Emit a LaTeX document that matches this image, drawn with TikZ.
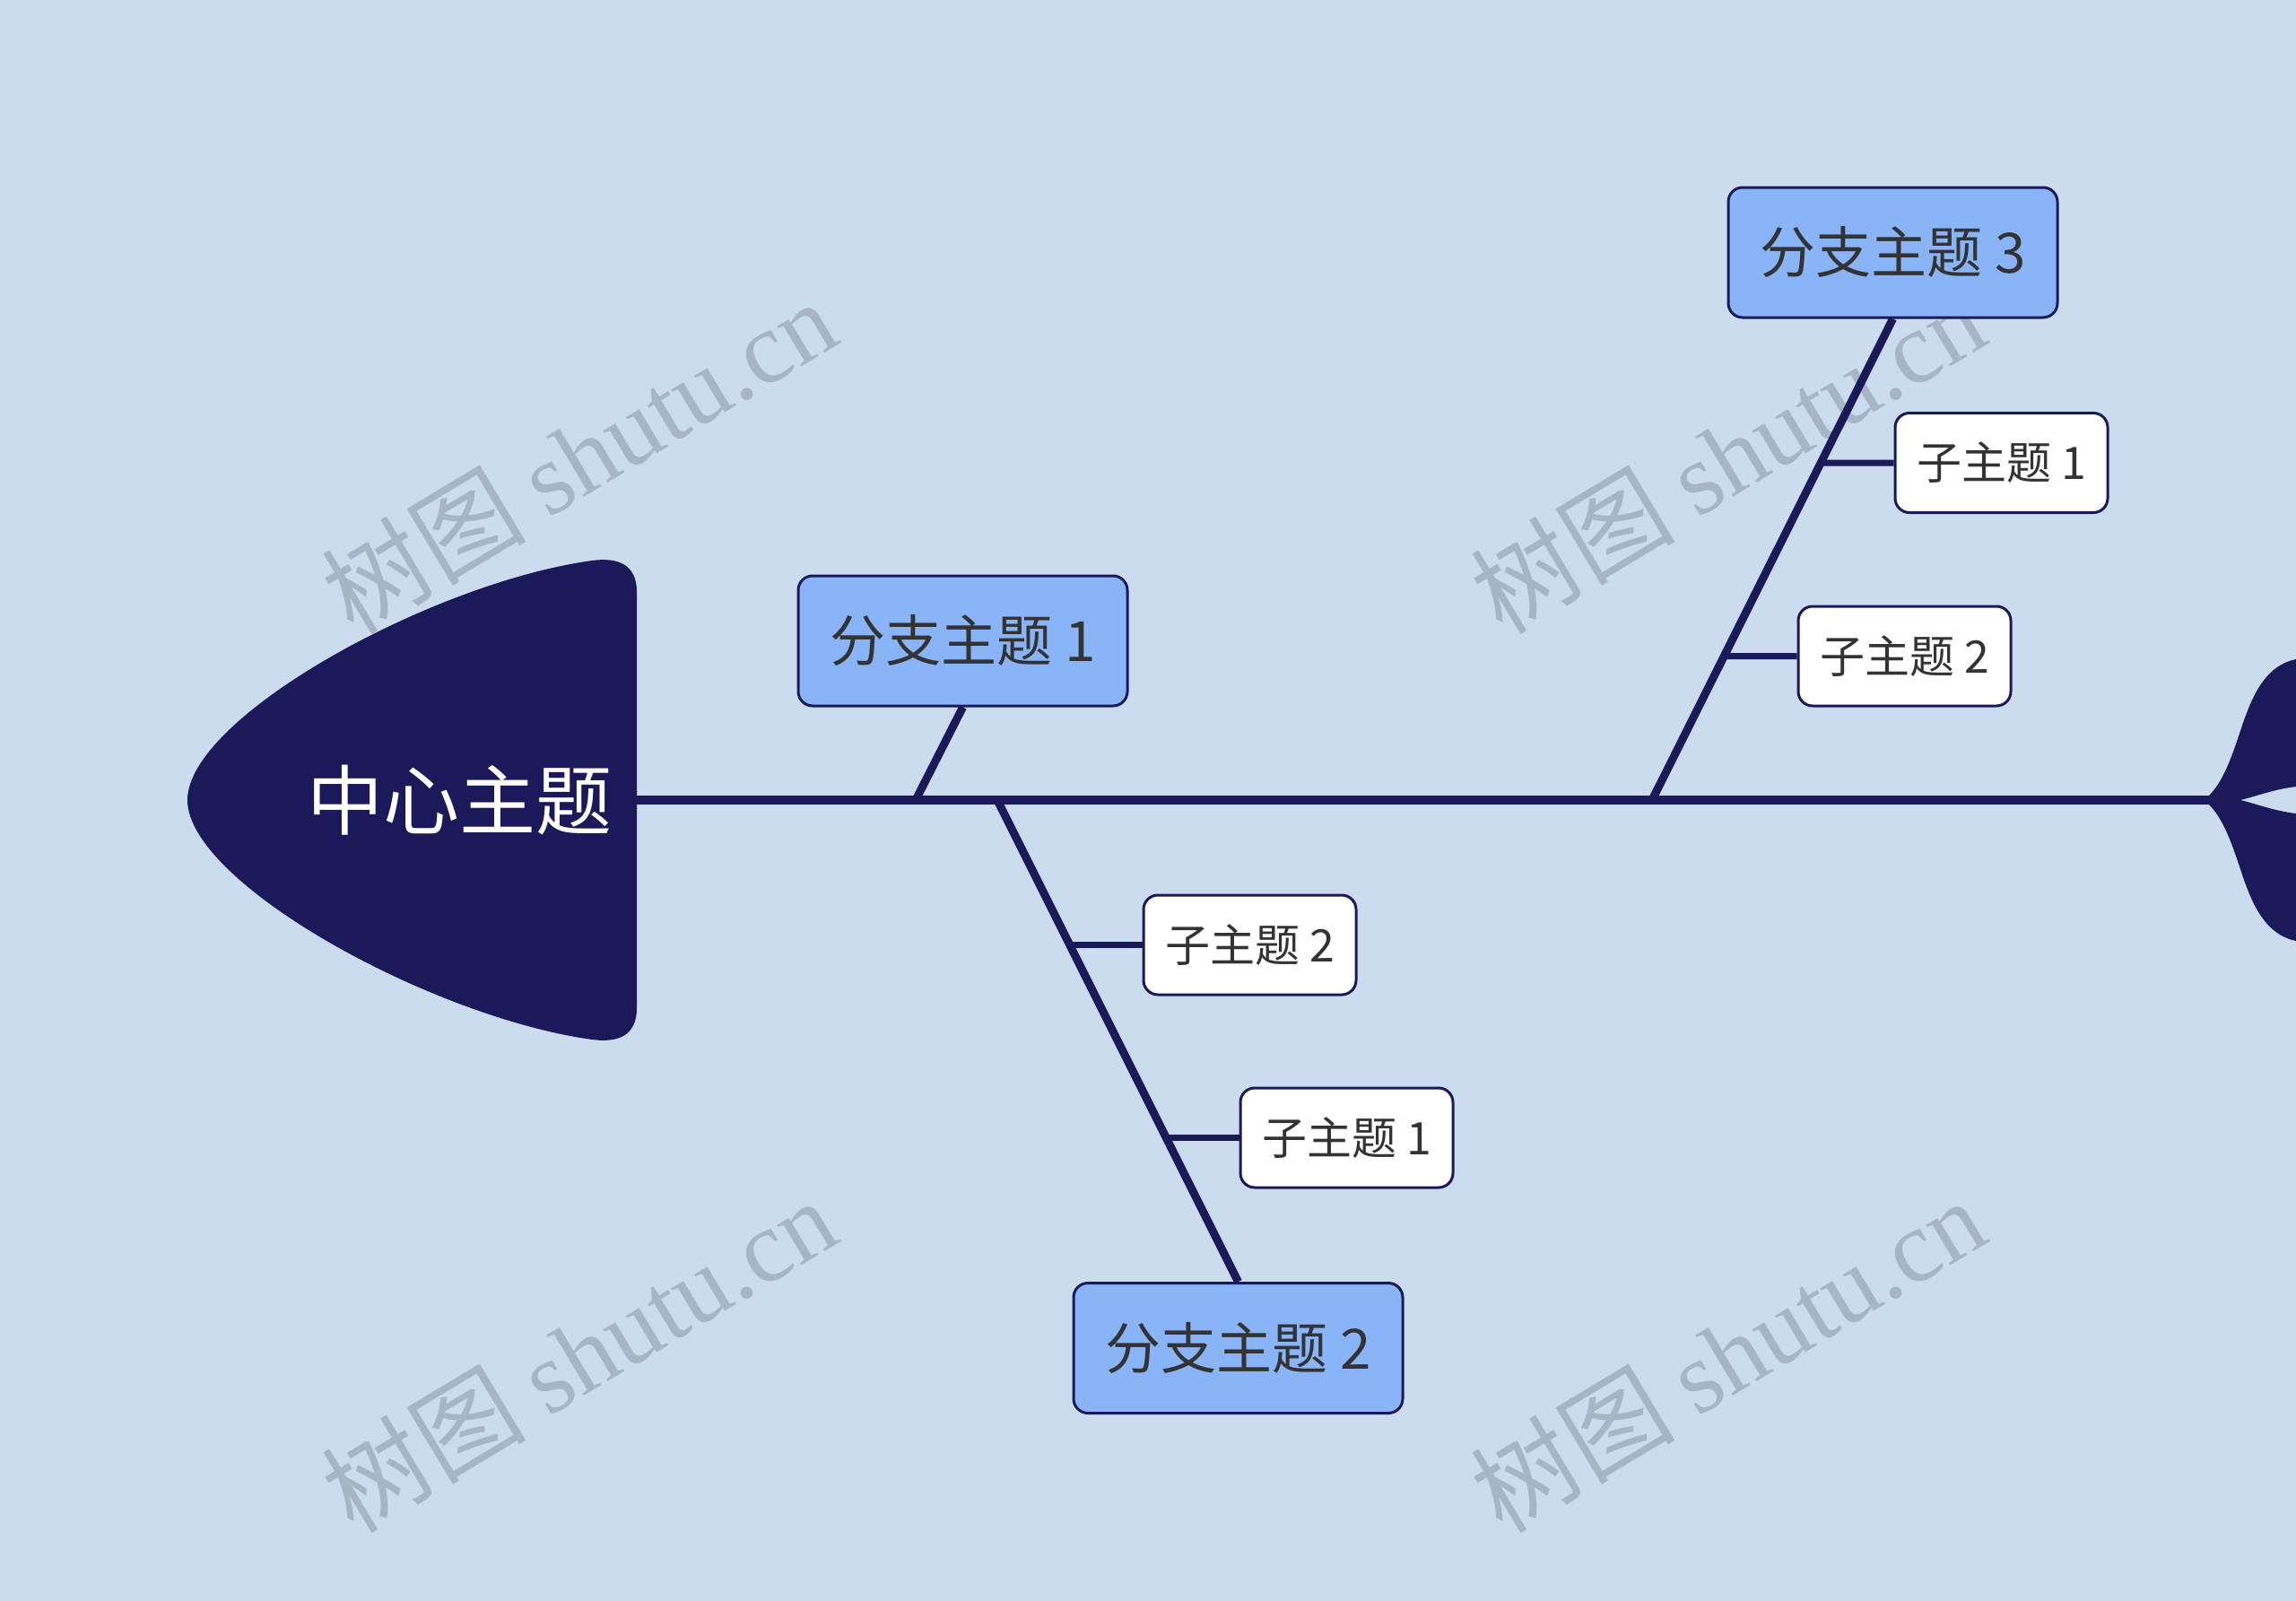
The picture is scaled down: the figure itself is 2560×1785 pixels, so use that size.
\documentclass[tikz,border=0pt]{standalone}
\usepackage{fontspec}
\setmainfont{Noto Sans CJK SC}
\newfontfamily\wmlatin{Liberation Serif}
\definecolor{bgc}{RGB}{204,220,239}
\definecolor{navy}{RGB}{27,25,89}
\definecolor{brfill}{RGB}{138,180,248}
\definecolor{txt}{RGB}{51,51,51}
\definecolor{wmc}{RGB}{168,181,198}
\tikzset{
  branchbox/.style={draw=navy, line width=3pt, fill=brfill, rounded corners=16pt,
    minimum width=367pt, minimum height=145pt, inner sep=0pt, text=txt,
    font=\fontsize{62}{70}\selectfont},
  subbox/.style={draw=navy, line width=3pt, fill=white, rounded corners=16pt,
    minimum width=237pt, minimum height=111pt, inner sep=0pt, text=txt,
    font=\fontsize{50}{56}\selectfont},
  spine/.style={draw=navy, line width=10pt},
  bone/.style={draw=navy, line width=9pt},
  twig/.style={draw=navy, line width=7pt},
  wm/.style={text=wmc, rotate=31, inner sep=0pt, font=\fontsize{114}{120}\selectfont}
}
\begin{document}
\begin{tikzpicture}[x=1pt,y=-1pt]
\useasboundingbox (0,0) rectangle (2560,1785);
\clip (0,0) rectangle (2560,1785);
\fill[bgc] (0,0) rectangle (2560,1785);
% watermarks
\node[wm] (wm1) at (645,508) {树图 {\wmlatin shutu.cn}};
\node[wm] (wm2) at (1926,508) {树图 {\wmlatin shutu.cn}};
\node[wm] (wm3) at (645,1510) {树图 {\wmlatin shutu.cn}};
\node[wm] (wm4) at (1926,1510) {树图 {\wmlatin shutu.cn}};
% head
\fill[navy] (209,892) .. controls (209,800) and (480,650) .. (660,625)
  .. controls (690,621) and (710,630) .. (710,660) -- (710,1124)
  .. controls (710,1154) and (690,1163) .. (660,1159)
  .. controls (480,1134) and (209,984) .. (209,892) -- cycle;
\node[text=white, font=\fontsize{85}{90}\selectfont] (center) at (512,892) {中心主题};
% tail
\fill[navy] (2463,887) .. controls (2485,865) and (2495,820) .. (2505,795)
  .. controls (2518,760) and (2535,740) .. (2560,735) -- (2580,735) -- (2580,877) -- (2560,877)
  .. controls (2535,880) and (2515,888) .. (2498,892)
  .. controls (2515,896) and (2535,904) .. (2560,907) -- (2580,907) -- (2580,1049) -- (2560,1049)
  .. controls (2535,1044) and (2518,1024) .. (2505,989)
  .. controls (2495,964) and (2485,919) .. (2463,897) -- cycle;
% spine
\coordinate (headR) at (709,892);
\coordinate (tailJ) at (2470,892);
\draw[spine] (headR) -- (tailJ);
% junctions
\coordinate (j1) at (1021,892);
\coordinate (j2) at (1112,892);
\coordinate (j3) at (1842,892);
% branch nodes
\node[branchbox] (b1) at (1073.5,714.5) {分支主题 1};
\node[branchbox] (b2) at (1380.5,1503) {分支主题 2};
\node[branchbox] (b3) at (2110.5,281.5) {分支主题 3};
% sub nodes
\node[subbox] (s22) at (1393.5,1053.5) {子主题 2};
\node[subbox] (s21) at (1501.5,1268.5) {子主题 1};
\node[subbox] (s31) at (2231.5,516) {子主题 1};
\node[subbox] (s32) at (2123.5,731.5) {子主题 2};
% bones
\draw[bone] (j1) -- (b1.south);
\draw[bone] (j2) -- (b2.north);
\draw[bone] (j3) -- (b3.south);
\coordinate (k22) at (intersection of j2--b2.north and s22.west--s22.east);
\coordinate (k21) at (intersection of j2--b2.north and s21.west--s21.east);
\coordinate (k31) at (intersection of j3--b3.south and s31.west--s31.east);
\coordinate (k32) at (intersection of j3--b3.south and s32.west--s32.east);
\draw[twig] (k22) -- (s22.west);
\draw[twig] (k21) -- (s21.west);
\draw[twig] (k31) -- (s31.west);
\draw[twig] (k32) -- (s32.west);
\end{tikzpicture}
\end{document}
